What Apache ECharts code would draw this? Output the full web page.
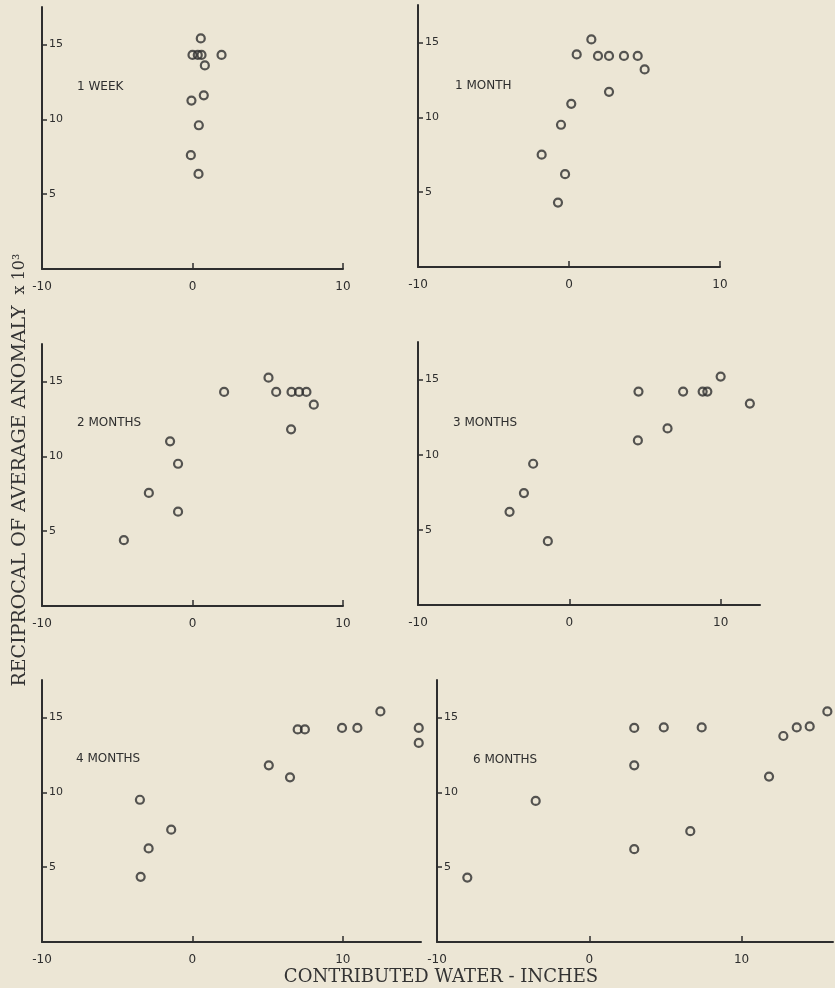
<!DOCTYPE html>
<html>
<head>
<meta charset="utf-8">
<script src="https://cdn.jsdelivr.net/npm/echarts@6/dist/echarts.min.js"></script>
<style>
  html, body { margin: 0; padding: 0; background: #ece6d5; }
  #main { width: 835px; height: 988px; }
</style>
</head>
<body>
<div id="main"></div>
<script>
// 每个面板的数据 [贡献水量, 平均异常倒数 x10^3]
var oneWeek = [[0.55, 15.4], [0.0, 14.3], [0.35, 14.3], [0.6, 14.3], [1.93, 14.3], [0.82, 13.6],
  [0.75, 11.6], [-0.07, 11.25], [0.42, 9.6], [-0.11, 7.6], [0.4, 6.35]]
var oneMonth = [[1.48, 15.2], [0.51, 14.2], [1.92, 14.1], [2.65, 14.1], [3.64, 14.1], [4.55, 14.1],
  [5.01, 13.2], [2.65, 11.7], [0.15, 10.9], [-0.53, 9.5], [-1.81, 7.5], [-0.26, 6.2], [-0.73, 4.3]]
var twoMonths = [[5.05, 15.25], [2.1, 14.3], [5.56, 14.3], [6.58, 14.3], [7.08, 14.3], [7.57, 14.3],
  [8.06, 13.45], [6.55, 11.8], [-1.49, 11.0], [-0.96, 9.5], [-2.9, 7.55], [-0.96, 6.3], [-4.56, 4.4]]
var threeMonths = [[10.0, 15.2], [4.57, 14.2], [7.52, 14.2], [8.81, 14.2], [9.12, 14.2], [11.93, 13.4],
  [6.49, 11.75], [4.53, 10.95], [-2.39, 9.4], [-3.0, 7.45], [-3.95, 6.2], [-1.42, 4.25]]
var fourMonths = [[12.5, 15.4], [7.0, 14.2], [7.48, 14.2], [9.95, 14.3], [10.97, 14.3], [15.05, 14.3],
  [15.05, 13.3], [5.08, 11.8], [6.49, 11.0], [-3.49, 9.5], [-1.41, 7.5], [-2.91, 6.25], [-3.44, 4.35]]
var sixMonths = [[15.63, 15.4], [2.95, 14.3], [4.89, 14.33], [7.38, 14.33], [12.74, 13.76], [13.62, 14.33],
  [14.47, 14.4], [2.95, 11.8], [11.8, 11.05], [-3.52, 9.42], [6.63, 7.4], [2.95, 6.2], [-8.01, 4.3]]

var panelNames = ['1 WEEK', '1 MONTH', '2 MONTHS', '3 MONTHS', '4 MONTHS', '6 MONTHS']
var xTickLabels = [-10, 0, 10]
var xTicks = [0, 10]
var yTickLabels = [5, 10, 15]

var panelData = [oneWeek, oneMonth, twoMonths, threeMonths, fourMonths, sixMonths]
// 面板位置 (像素)
var panels = [
  { left: 42, top: 7, width: 301, height: 262, xMax: 10, labelX: 77, labelY: 88 },
  { left: 418, top: 5, width: 302, height: 262, xMax: 10, labelX: 455, labelY: 87 },
  { left: 42, top: 344, width: 301, height: 262, xMax: 10, labelX: 77, labelY: 424 },
  { left: 418, top: 342, width: 342, height: 263, xMax: 12.6, labelX: 453, labelY: 424 },
  { left: 42, top: 680, width: 379, height: 262, xMax: 15.2, labelX: 76, labelY: 760 },
  { left: 437, top: 680, width: 396, height: 262, xMax: 16, labelX: 473, labelY: 761 }
]

var ink = '#2e2e2e'
var tickFont = 'DejaVu Sans'

var grids = [], xAxes = [], yAxes = [], series = [], graphics = []
for (var i = 0; i < panels.length; i++) {
  var p = panels[i]
  grids.push({ left: p.left, top: p.top, width: p.width, height: p.height, containLabel: false, outerBoundsMode: 'none' })
  xAxes.push({
    gridIndex: i, type: 'value', min: -10, max: p.xMax, interval: 10,
    axisLine: { show: true, onZero: false, lineStyle: { color: ink, width: 2 } },
    axisTick: { show: true, inside: true, length: 6, customValues: xTicks, lineStyle: { color: ink, width: 1.5 } },
    axisLabel: { show: true, customValues: xTickLabels, margin: 12, color: ink, fontSize: 12, fontFamily: tickFont },
    splitLine: { show: false }
  })
  yAxes.push({
    gridIndex: i, type: 'value', min: 0, max: 17.5, interval: 5,
    axisLine: { show: true, onZero: false, lineStyle: { color: ink, width: 2 } },
    axisTick: { show: true, inside: true, length: 5, customValues: yTickLabels, lineStyle: { color: ink, width: 1.5 } },
    axisLabel: { show: true, inside: true, customValues: yTickLabels, margin: 7, color: ink, fontSize: 11, fontFamily: tickFont },
    splitLine: { show: false }
  })
  series.push({
    type: 'scatter', xAxisIndex: i, yAxisIndex: i, data: panelData[i],
    symbol: 'circle', symbolSize: 8, clip: false, silent: true,
    itemStyle: { color: 'rgba(0,0,0,0)', borderColor: ink, borderWidth: 2.2 }
  })
  graphics.push({
    type: 'text', left: p.labelX, top: p.labelY - 7,
    style: { text: panelNames[i], fill: ink, font: '12px ' + tickFont }
  })
}

// 纵轴标题
graphics.push({
  type: 'text', x: 20, y: 496, rotation: Math.PI / 2,
  style: { text: 'RECIPROCAL OF AVERAGE ANOMALY', fill: '#333', font: '19px "DejaVu Serif"', align: 'center', verticalAlign: 'middle' }
})
graphics.push({
  type: 'text', x: 20, y: 274, rotation: Math.PI / 2,
  style: { text: 'x 10³', fill: '#333', font: '16px "DejaVu Serif"', align: 'center', verticalAlign: 'middle' }
})
// 横轴标题
graphics.push({
  type: 'text', x: 441, y: 977,
  style: { text: 'CONTRIBUTED WATER - INCHES', fill: '#333', font: '18px "DejaVu Serif"', align: 'center', verticalAlign: 'middle' }
})

var myChart = echarts.init(document.getElementById('main'))
myChart.setOption({
  backgroundColor: '#ece6d5',
  animation: false,
  grid: grids,
  xAxis: xAxes,
  yAxis: yAxes,
  series: series,
  graphic: graphics
})
</script>
</body>
</html>
